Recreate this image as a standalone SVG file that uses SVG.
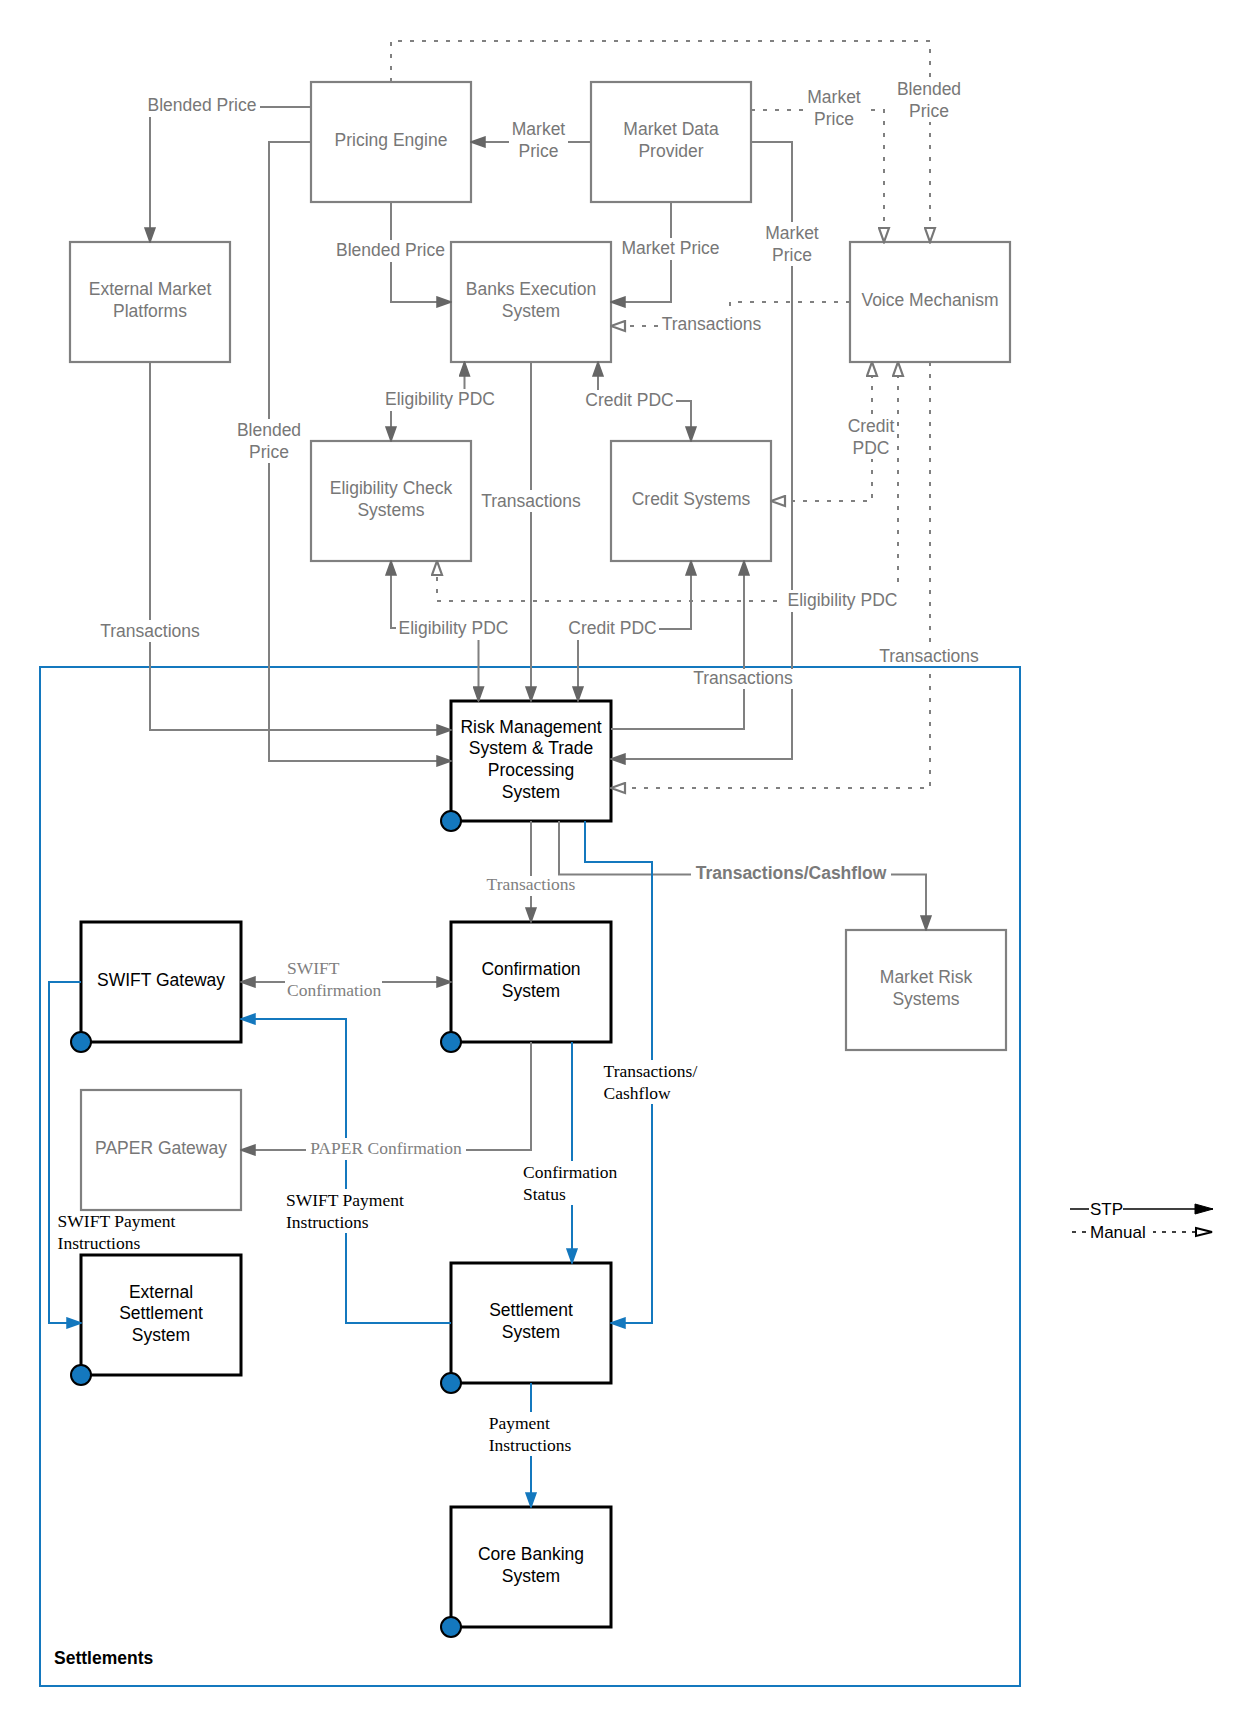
<svg xmlns="http://www.w3.org/2000/svg" width="1254" height="1727" viewBox="0 0 1254 1727">
<style>
.bg{fill:#fff}
.gbox{fill:#fff;stroke:#808080;stroke-width:2.2}
.kbox{fill:#fff;stroke:#000;stroke-width:3}
.dot{fill:#1478be;stroke:#000;stroke-width:2}
.gt{font-family:"Liberation Sans",Arial,sans-serif;font-size:17.5px;fill:#777;text-anchor:middle}
.kt{font-family:"Liberation Sans",Arial,sans-serif;font-size:17.5px;fill:#000;text-anchor:middle}
.bt{font-family:"Liberation Sans",Arial,sans-serif;font-size:17.5px;font-weight:bold;fill:#7a7a7a;text-anchor:middle}
.sg{font-family:"Liberation Serif","Times New Roman",serif;font-size:17.5px;fill:#808080}
.sk{font-family:"Liberation Serif","Times New Roman",serif;font-size:17.5px;fill:#000}
.ln{fill:none;stroke:#808080;stroke-width:2}
.dl{fill:none;stroke:#808080;stroke-width:2;stroke-dasharray:4 8}
.bl{fill:none;stroke:#1478be;stroke-width:2}
.lb{fill:#fff}
</style>
<defs>
<marker id="ag" viewBox="0 0 16 12" refX="15" refY="6" markerWidth="16" markerHeight="12" markerUnits="userSpaceOnUse" orient="auto-start-reverse"><path d="M1,1 L15,6 L1,11 z" fill="#666" stroke="#666" stroke-width="1.5"/></marker>
<marker id="ao" viewBox="0 0 17 13" refX="15.5" refY="6.5" markerWidth="17" markerHeight="13" markerUnits="userSpaceOnUse" orient="auto-start-reverse"><path d="M1.5,1.5 L15.5,6.5 L1.5,11.5 z" fill="#fff" stroke="#777" stroke-width="2.2"/></marker>
<marker id="ab" viewBox="0 0 16 12" refX="15" refY="6" markerWidth="16" markerHeight="12" markerUnits="userSpaceOnUse" orient="auto-start-reverse"><path d="M1,1 L15,6 L1,11 z" fill="#1478be" stroke="#1478be" stroke-width="1.5"/></marker>
<marker id="ak" viewBox="0 0 20 12" refX="19" refY="6" markerWidth="20" markerHeight="12" markerUnits="userSpaceOnUse" orient="auto"><path d="M1,1 L19,6 L1,11 z" fill="#000" stroke="#000" stroke-width="1"/></marker>
<marker id="akk" viewBox="0 0 20 12" refX="18" refY="6" markerWidth="20" markerHeight="12" markerUnits="userSpaceOnUse" orient="auto"><path d="M2,2 L18,6 L2,10 z" fill="#fff" stroke="#000" stroke-width="2"/></marker>
</defs>
<rect class="bg" x="0" y="0" width="1254" height="1727"/>

<g id="settlements-group">
<rect x="40" y="667" width="980" height="1019" fill="none" stroke="#1478be" stroke-width="2"/>
<text x="54" y="1664" font-family="Liberation Sans, Arial, sans-serif" font-size="17.5" font-weight="bold" fill="#000">Settlements</text>
</g>

<g id="node-pricing-engine"><rect class="gbox" x="311" y="82" width="160" height="120"/><text class="gt" x="391" y="146">Pricing Engine</text></g>
<g id="node-market-data-provider"><rect class="gbox" x="591" y="82" width="160" height="120"/><text class="gt" x="671" y="135">Market Data<tspan x="671" dy="21.7">Provider</tspan></text></g>
<g id="node-external-market-platforms"><rect class="gbox" x="70" y="242" width="160" height="120"/><text class="gt" x="150" y="295">External Market<tspan x="150" dy="21.7">Platforms</tspan></text></g>
<g id="node-banks-execution"><rect class="gbox" x="451" y="242" width="160" height="120"/><text class="gt" x="531" y="295">Banks Execution<tspan x="531" dy="21.7">System</tspan></text></g>
<g id="node-voice-mechanism"><rect class="gbox" x="850" y="242" width="160" height="120"/><text class="gt" x="930" y="306">Voice Mechanism</text></g>
<g id="node-eligibility-check"><rect class="gbox" x="311" y="441" width="160" height="120"/><text class="gt" x="391" y="494">Eligibility Check<tspan x="391" dy="21.7">Systems</tspan></text></g>
<g id="node-credit-systems"><rect class="gbox" x="611" y="441" width="160" height="120"/><text class="gt" x="691" y="505">Credit Systems</text></g>
<g id="node-market-risk"><rect class="gbox" x="846" y="930" width="160" height="120"/><text class="gt" x="926" y="983">Market Risk<tspan x="926" dy="21.7">Systems</tspan></text></g>
<g id="node-paper-gateway"><rect class="gbox" x="81" y="1090" width="160" height="120"/><text class="gt" x="161" y="1154">PAPER Gateway</text></g>
<g id="node-risk-management"><rect class="kbox" x="451" y="701" width="160" height="120"/><text class="kt" x="531" y="732.5">Risk Management<tspan x="531" dy="21.7">System &amp; Trade</tspan><tspan x="531" dy="21.7">Processing</tspan><tspan x="531" dy="21.7">System</tspan></text></g>
<g id="node-swift-gateway"><rect class="kbox" x="81" y="922" width="160" height="120"/><text class="kt" x="161" y="986">SWIFT Gateway</text></g>
<g id="node-confirmation"><rect class="kbox" x="451" y="922" width="160" height="120"/><text class="kt" x="531" y="975">Confirmation<tspan x="531" dy="21.7">System</tspan></text></g>
<g id="node-external-settlement"><rect class="kbox" x="81" y="1255" width="160" height="120"/><text class="kt" x="161" y="1297.5">External<tspan x="161" dy="21.7">Settlement</tspan><tspan x="161" dy="21.7">System</tspan></text></g>
<g id="node-settlement"><rect class="kbox" x="451" y="1263" width="160" height="120"/><text class="kt" x="531" y="1316">Settlement<tspan x="531" dy="21.7">System</tspan></text></g>
<g id="node-core-banking"><rect class="kbox" x="451" y="1507" width="160" height="120"/><text class="kt" x="531" y="1560">Core Banking<tspan x="531" dy="21.7">System</tspan></text></g>

<g id="connectors">
<path class="ln" d="M311,107 H150 V242" marker-end="url(#ag)"/>
<path class="ln" d="M591,142 H471" marker-end="url(#ag)"/>
<path class="ln" d="M391,202 V302 H451" marker-end="url(#ag)"/>
<path class="ln" d="M671,202 V302 H611" marker-end="url(#ag)"/>
<path class="ln" d="M751,142 H792 V759 H611" marker-end="url(#ag)"/>
<path class="dl" d="M751,110 H884 V242" marker-end="url(#ao)"/>
<path class="dl" d="M391,82 V41 H930 V242" marker-end="url(#ao)"/>
<path class="dl" d="M850,302 H730 V326 H611" marker-end="url(#ao)"/>
<path class="ln" d="M464.5,362 V399 H391 V441" marker-start="url(#ag)" marker-end="url(#ag)"/>
<path class="ln" d="M598,362 V401 H691 V441" marker-start="url(#ag)" marker-end="url(#ag)"/>
<path class="ln" d="M531,362 V701" marker-end="url(#ag)"/>
<path class="ln" d="M311,142 H269 V761 H451" marker-end="url(#ag)"/>
<path class="ln" d="M150,362 V730 H451" marker-end="url(#ag)"/>
<path class="ln" d="M478.5,701 V628 H391 V561" marker-start="url(#ag)" marker-end="url(#ag)"/>
<path class="ln" d="M578,701 V629 H691 V561" marker-start="url(#ag)" marker-end="url(#ag)"/>
<path class="ln" d="M611,729 H744 V561" marker-end="url(#ag)"/>
<path class="dl" d="M930,362 V788 H611" marker-end="url(#ao)"/>
<path class="dl" d="M898,362 V601 H437 V561" marker-start="url(#ao)" marker-end="url(#ao)"/>
<path class="dl" d="M872,362 V501 H771" marker-start="url(#ao)" marker-end="url(#ao)"/>
<path class="ln" d="M531,821 V922" marker-end="url(#ag)"/>
<path class="ln" d="M559,821 V874.5 H926 V930" marker-end="url(#ag)"/>
<path class="bl" d="M585,821 V862 H652 V1323 H611" marker-end="url(#ab)"/>
<path class="ln" d="M241,982 H451" marker-start="url(#ag)" marker-end="url(#ag)"/>
<path class="ln" d="M531,1042 V1150 H241" marker-end="url(#ag)"/>
<path class="bl" d="M572,1042 V1263" marker-end="url(#ab)"/>
<path class="bl" d="M451,1323 H346 V1019 H241" marker-end="url(#ab)"/>
<path class="bl" d="M81,982 H49 V1323 H81" marker-end="url(#ab)"/>
<path class="bl" d="M531,1383 V1507" marker-end="url(#ab)"/>
</g>

<g id="connector-labels">
<rect class="lb" x="145" y="95" width="115" height="22"/><text class="gt" x="202" y="111">Blended Price</text>
<rect class="lb" x="509" y="118" width="59" height="44"/><text class="gt" x="538.5" y="135">Market<tspan x="538.5" dy="21.7">Price</tspan></text>
<rect class="lb" x="334" y="240" width="114" height="22"/><text class="gt" x="390.5" y="256">Blended Price</text>
<rect class="lb" x="618" y="238" width="106" height="22"/><text class="gt" x="670.5" y="254">Market Price</text>
<rect class="lb" x="763" y="222" width="58" height="44"/><text class="gt" x="792" y="239">Market<tspan x="792" dy="21.7">Price</tspan></text>
<rect class="lb" x="805" y="86" width="58" height="44"/><text class="gt" x="834" y="103">Market<tspan x="834" dy="21.7">Price</tspan></text>
<rect class="lb" x="895" y="78" width="68" height="44"/><text class="gt" x="929" y="95">Blended<tspan x="929" dy="21.7">Price</tspan></text>
<rect class="lb" x="660" y="314" width="104" height="22"/><text class="gt" x="711.5" y="330">Transactions</text>
<rect class="lb" x="383" y="389" width="114" height="22"/><text class="gt" x="440" y="405">Eligibility PDC</text>
<rect class="lb" x="583" y="390" width="93" height="22"/><text class="gt" x="629.5" y="406">Credit PDC</text>
<rect class="lb" x="478" y="490" width="106" height="22"/><text class="gt" x="531" y="507">Transactions</text>
<rect class="lb" x="234" y="419" width="70" height="44"/><text class="gt" x="269" y="436">Blended<tspan x="269" dy="21.7">Price</tspan></text>
<rect class="lb" x="97" y="620" width="106" height="22"/><text class="gt" x="150" y="637">Transactions</text>
<rect class="lb" x="396" y="618" width="115" height="22"/><text class="gt" x="453.5" y="634">Eligibility PDC</text>
<rect class="lb" x="566" y="618" width="93" height="22"/><text class="gt" x="612.5" y="634">Credit PDC</text>
<rect class="lb" x="690" y="669" width="106" height="20"/><text class="gt" x="743" y="684">Transactions</text>
<rect class="lb" x="876" y="645" width="106" height="21"/><text class="gt" x="929" y="662">Transactions</text>
<rect class="lb" x="785" y="590" width="115" height="22"/><text class="gt" x="842.5" y="606">Eligibility PDC</text>
<rect class="lb" x="847" y="415" width="48" height="44"/><text class="gt" x="871" y="432">Credit<tspan x="871" dy="21.7">PDC</tspan></text>
<rect class="lb" x="691" y="863" width="200" height="22"/><text class="bt" x="791" y="879">Transactions/Cashflow</text>
<rect class="lb" x="485" y="876" width="93" height="20"/><text class="sg" x="531" y="890" text-anchor="middle">Transactions</text>
<rect class="lb" x="285" y="957" width="97" height="45"/><text class="sg" x="287" y="974">SWIFT<tspan x="287" dy="22.3">Confirmation</tspan></text>
<rect class="lb" x="306" y="1138" width="160" height="22"/><text class="sg" x="386" y="1154" text-anchor="middle">PAPER Confirmation</text>
<rect class="lb" x="601" y="1060" width="99" height="44"/><text class="sk" x="603.6" y="1077">Transactions/<tspan x="603.6" dy="21.7">Cashflow</tspan></text>
<rect class="lb" x="521" y="1161" width="98" height="44"/><text class="sk" x="523" y="1178">Confirmation<tspan x="523" dy="21.7">Status</tspan></text>
<rect class="lb" x="284" y="1189" width="124" height="44"/><text class="sk" x="286" y="1206">SWIFT Payment<tspan x="286" dy="21.7">Instructions</tspan></text>
<text class="sk" x="57.6" y="1227">SWIFT Payment<tspan x="57.6" dy="21.7">Instructions</tspan></text>
<rect class="lb" x="486" y="1412" width="94" height="44"/><text class="sk" x="488.7" y="1429">Payment<tspan x="488.7" dy="21.7">Instructions</tspan></text>
</g>

<g id="status-dots">
<circle class="dot" cx="451" cy="821" r="10"/>
<circle class="dot" cx="81" cy="1042" r="10"/>
<circle class="dot" cx="451" cy="1042" r="10"/>
<circle class="dot" cx="81" cy="1375" r="10"/>
<circle class="dot" cx="451" cy="1383" r="10"/>
<circle class="dot" cx="451" cy="1627" r="10"/>
</g>

<g id="legend">
<path d="M1070,1209 H1213" fill="none" stroke="#000" stroke-width="1.5" marker-end="url(#ak)"/>
<path d="M1072,1232 H1212" fill="none" stroke="#000" stroke-width="1.5" stroke-dasharray="4 6" marker-end="url(#akk)"/>
<rect class="lb" x="1089" y="1199" width="34" height="20"/>
<text x="1090" y="1215" font-family="Liberation Sans, Arial, sans-serif" font-size="17" fill="#000">STP</text>
<rect class="lb" x="1089" y="1222" width="64" height="20"/>
<text x="1090" y="1238" font-family="Liberation Sans, Arial, sans-serif" font-size="17" fill="#000">Manual</text>
</g>
</svg>
